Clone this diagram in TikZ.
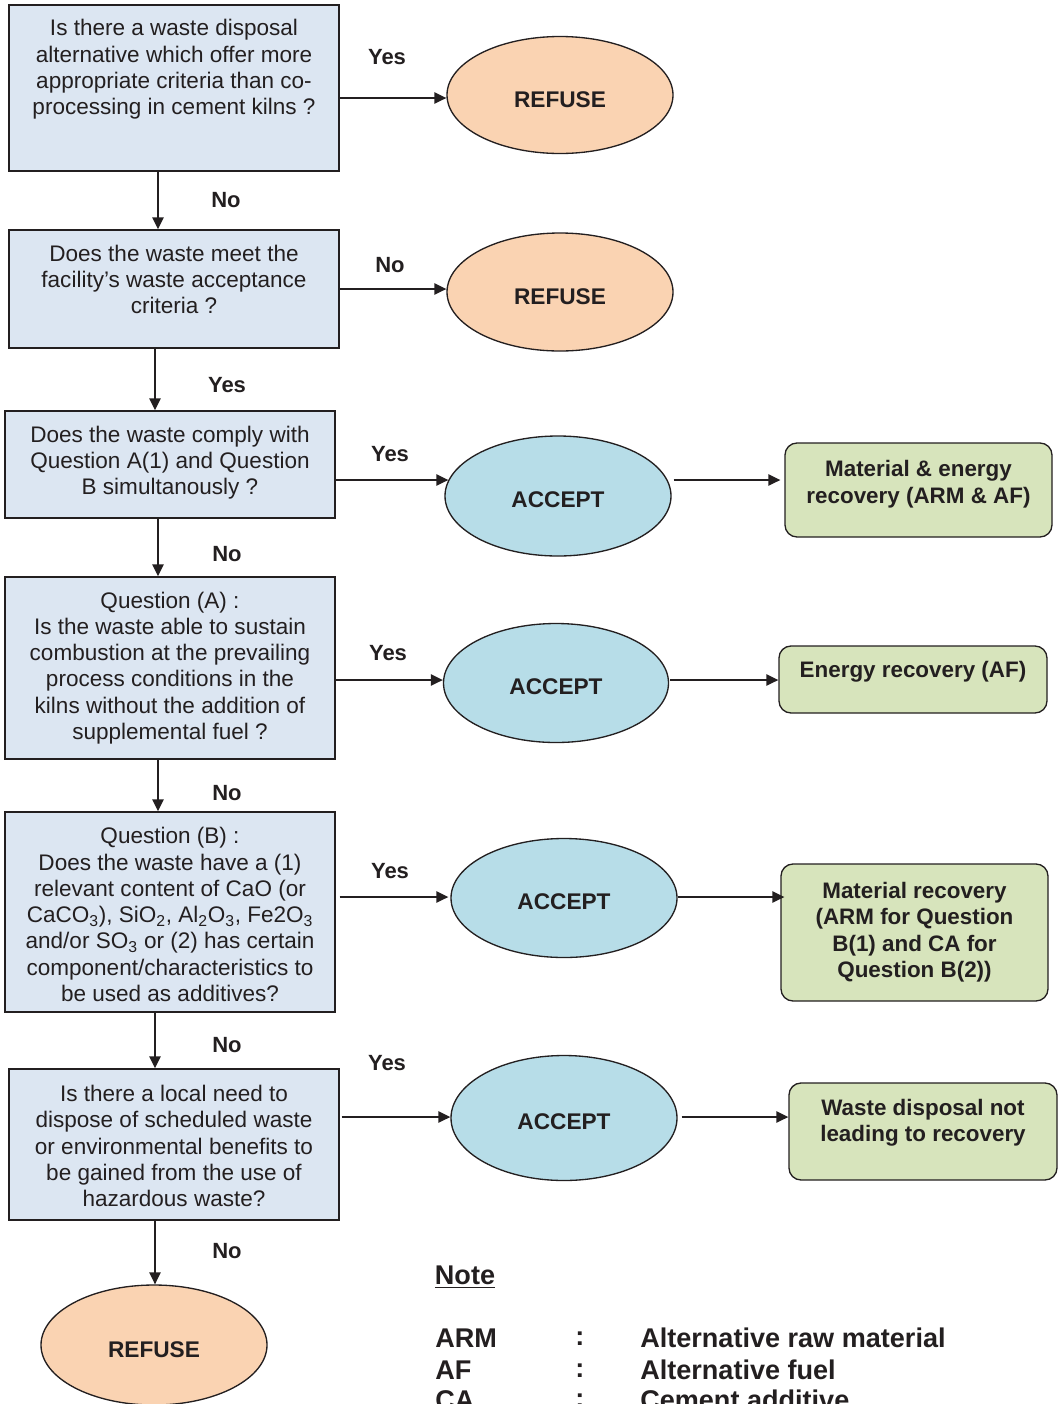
\documentclass[tikz,border=0pt]{standalone}
\usepackage{fontspec}
\setmainfont{Liberation Sans}
\usetikzlibrary{shapes.geometric,arrows.meta,calc}
\definecolor{ink}{HTML}{231F20}
\definecolor{qfill}{HTML}{DCE6F2}
\definecolor{rfill}{HTML}{FAD3B2}
\definecolor{afill}{HTML}{B7DDE8}
\definecolor{gfill}{HTML}{D7E4BC}
\begin{document}
\begin{tikzpicture}[x=0.75pt,y=0.75pt,
  every node/.style={text=ink},
  sz/.style 2 args={minimum width=#1*0.75pt,minimum height=#2*0.75pt},
  qbox/.style={draw=ink,line width=1.1pt,fill=qfill,inner sep=0pt},
  qtext/.style={align=center,inner sep=0pt,font=\fontsize{16.9pt}{19.7pt}\selectfont},
  refuse/.style={ellipse,draw=ink,line width=1pt,fill=rfill,inner sep=0pt,text height=18pt,text depth=0pt,font=\fontsize{17pt}{19.6pt}\selectfont\bfseries},
  accept/.style={ellipse,draw=ink,line width=1pt,fill=afill,inner sep=0pt,text height=17.5pt,text depth=0pt,font=\fontsize{17pt}{19.6pt}\selectfont\bfseries},
  gbox/.style={draw=ink,line width=1pt,fill=gfill,rounded corners=9pt,inner sep=0pt},
  gtext/.style={align=center,inner sep=0pt,font=\fontsize{16.8pt}{19.8pt}\selectfont\bfseries},
  lbl/.style={inner sep=0pt,font=\fontsize{16.5pt}{19.6pt}\selectfont\bfseries},
  notef/.style={inner sep=0pt,font=\fontsize{20.3pt}{24pt}\selectfont\bfseries},
  arr/.style={draw=ink,line width=1.1pt,-{Triangle[length=9pt,width=8.5pt]}}
]
\useasboundingbox (0,0) rectangle (1058,-1404);
\clip (0,0) rectangle (1058,-1404);

% question boxes
\node[qbox,sz={330}{166}] (b1) at (174,-88) {};
\node[qtext] (t1) at (174,-69.5) {Is there a waste disposal\\alternative which offer more\\appropriate criteria than co-\\processing in cement kilns ?};
\node[qbox,sz={330}{118}] (b2) at (174,-289) {};
\node[qtext] (t2) at (174,-279.5) {Does the waste meet the\\facility's waste acceptance\\criteria ?};
\node[qbox,sz={330}{107}] (b3) at (170,-464.5) {};
\node[qtext] (t3) at (170,-462.5) {Does the waste comply with\\Question A(1) and Question\\B simultanously ?};
\node[qbox,sz={330}{182}] (b4) at (170,-668) {};
\node[qtext] (t4) at (170,-668) {Question (A) :\\Is the waste able to sustain\\combustion at the prevailing\\process conditions in the\\kilns without the addition of\\supplemental fuel ?};
\node[qbox,sz={330}{200}] (b5) at (170,-912) {};
\node[qtext] (t5) at (170,-914.5) {Question (B) :\\Does the waste have a (1)\\relevant content of CaO (or\\CaCO\textsubscript{3}), SiO\textsubscript{2}, Al\textsubscript{2}O\textsubscript{3}, Fe2O\textsubscript{3}\\and/or SO\textsubscript{3} or (2) has certain\\component/characteristics to\\be used as additives?};
\node[qbox,sz={330}{151}] (b6) at (174,-1144.5) {};
\node[qtext] (t6) at (174,-1146) {Is there a local need to\\dispose of scheduled waste\\or environmental benefits to\\be gained from the use of\\hazardous waste?};

% ellipses
\node[refuse,sz={226}{117}] (r1) at (560,-95) {REFUSE};
\node[refuse,sz={226}{118}] (r2) at (560,-292) {REFUSE};
\node[accept,sz={226}{120}] (a1) at (558,-496) {ACCEPT};
\node[accept,sz={225}{119}] (a2) at (556,-683) {ACCEPT};
\node[accept,sz={226}{119}] (a3) at (564,-898) {ACCEPT};
\node[accept,sz={226}{125}] (a4) at (564,-1118) {ACCEPT};
\node[refuse,sz={226}{120},text height=19pt] (r3) at (154,-1345) {REFUSE};

% green boxes
\node[gbox,sz={267}{94}] (g1) at (918.5,-490) {};
\node[gtext] (gt1) at (918.5,-484) {Material \& energy\\recovery (ARM \& AF)};
\node[gbox,sz={268}{67}] (g2) at (913,-679.5) {};
\node[gtext] (gt2) at (913,-672) {Energy recovery (AF)};
\node[gbox,sz={267}{137}] (g3) at (914.5,-932.5) {};
\node[gtext] (gt3) at (914.5,-932) {Material recovery\\(ARM for Question\\B(1) and CA for\\Question B(2))};
\node[gbox,sz={268}{97}] (g4) at (923,-1131.5) {};
\node[gtext] (gt4) at (923,-1123) {Waste disposal not\\leading to recovery};

% horizontal arrows
\draw[arr] ($(b1.east)+(0,-10)$) -- ($(r1.west)+(0,-3)$);
\draw[arr] (b2.east) -- ($(r2.west)+(0,3)$);
\draw[arr] ($(b3.east)+(0,-15.5)$) -- ($(a1.west)+(4,16)$);
\draw[arr] ($(a1.east)+(2,16)$) -- ($(g1.west)+(-4,10)$);
\draw[arr] ($(b4.east)+(0,-12)$) -- ($(a2.west)+(0,3)$);
\draw[arr] ($(a2.east)+(1,3)$) -- ($(g2.west)+(0,-0.5)$);
\draw[arr] ($(b5.east)+(4,15)$) -- ($(a3.west)+(-2,1)$);
\draw[arr] ($(a3.east)+(0,1)$) -- ($(g3.west)+(4,35.5)$);
\draw[arr] ($(b6.east)+(2,27.5)$) -- ($(a4.west)+(0,1)$);
\draw[arr] ($(a4.east)+(4,1)$) -- ($(g4.west)+(0,14.5)$);

% vertical arrows
\draw[arr] ($(b1.south)+(-16,0)$) -- ($(b2.north)+(-16,0)$);
\draw[arr] ($(b2.south)+(-19,0)$) -- ($(b3.north)+(-15,0)$);
\draw[arr] ($(b3.south)+(-12,0)$) -- ($(b4.north)+(-12,0)$);
\draw[arr] ($(b4.south)+(-12,0)$) -- ($(b5.north)+(-12,0)$);
\draw[arr] ($(b5.south)+(-15,0)$) -- ($(b6.north)+(-19,0)$);
\draw[arr] ($(b6.south)+(-19,0)$) -- ($(r3.north)+(1,0)$);

% labels
\node[lbl] (ly1) at (387,-57) {Yes};
\node[lbl] (ln1) at (226,-200) {No};
\node[lbl] (ln2) at (390,-265) {No};
\node[lbl] (ly2) at (227,-385) {Yes};
\node[lbl] (ly3) at (390,-454) {Yes};
\node[lbl] (ln3) at (227,-554) {No};
\node[lbl] (ly4) at (388,-653) {Yes};
\node[lbl] (ln4) at (227,-793) {No};
\node[lbl] (ly5) at (390,-871) {Yes};
\node[lbl] (ln5) at (227,-1045) {No};
\node[lbl] (ly6) at (387,-1063) {Yes};
\node[lbl] (ln6) at (227,-1251) {No};

% note
\node[notef] (note) at (465,-1277) {\underline{Note}};
\node[notef,anchor=west] (k1) at (435,-1338) {ARM};
\node[notef] (c1) at (580,-1339) {:};
\node[notef,anchor=west] (d1) at (640,-1338) {Alternative raw material};
\node[notef,anchor=west] (k2) at (435,-1370) {AF};
\node[notef] (c2) at (580,-1371) {:};
\node[notef,anchor=west] (d2) at (640,-1370) {Alternative fuel};
\node[notef,anchor=west] (k3) at (435,-1400) {CA};
\node[notef] (c3) at (580,-1401) {:};
\node[notef,anchor=west] (d3) at (640,-1400) {Cement additive};
\end{tikzpicture}
\end{document}
